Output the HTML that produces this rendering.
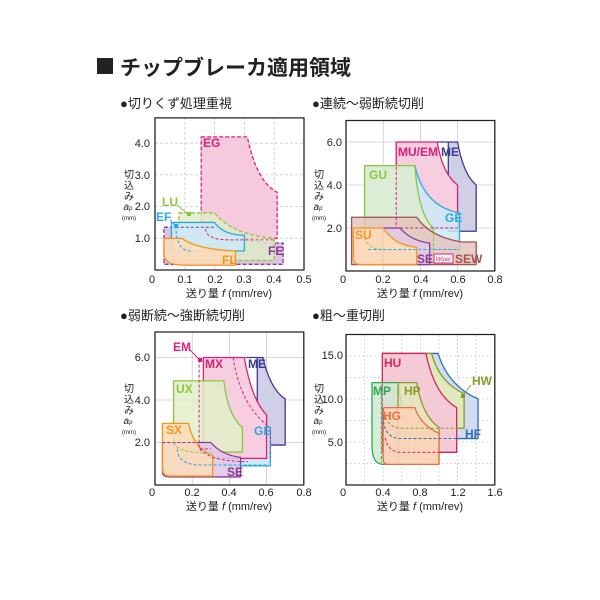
<!DOCTYPE html>
<html><head><meta charset="utf-8"><style>
body{margin:0;background:#fff;}
svg{display:block;font-family:"Liberation Sans","Noto Sans CJK JP",sans-serif;}
.f{vector-effect:non-scaling-stroke;stroke-width:1.3;stroke-linejoin:round}
.d{vector-effect:non-scaling-stroke;stroke-width:1;fill:none;stroke-dasharray:3 2}
.g{vector-effect:non-scaling-stroke;stroke:#ccc;stroke-width:0.8;fill:none}
.t{font-size:11px;fill:#222}
.l{font-size:12px;font-weight:bold}
</style></head><body>
<svg width="600" height="600" viewBox="0 0 600 600">
<rect x="97" y="58" width="16" height="16" fill="#222"/>
<text x="120" y="75" font-size="21" font-weight="bold" fill="#222">チップブレーカ適用領域</text>

<!-- Chart 1 -->
<text x="120" y="108" font-size="13" fill="#222">●切りくず処理重視</text>
<g transform="translate(155,270) scale(298,-31.7)">
<path class="g" stroke-dasharray="3 2" d="M0.1 0V4.8M0.2 0V4.8M0.3 0V4.8M0.4 0V4.8M0 1H0.5M0 2H0.5M0 3H0.5M0 4H0.5"/>
<path class="f" fill="#f7c9dd" stroke="#d6227a" stroke-dasharray="4 2" d="M0.155 4.2H0.31Q0.34 2.8 0.41 2.45V1H0.18Q0.155 1 0.155 1.2Z"/>
<path class="f" fill="#dcc4e2" stroke="#8b3a96" stroke-dasharray="4 2" d="M0.03 1.35H0.2Q0.25 0.95 0.39 0.85H0.43V0.18H0.03Z"/>
<path class="f" fill="#e0eec8" fill-opacity="0.8" stroke="#8cc63f" stroke-dasharray="4 2" d="M0.08 1.8H0.2Q0.26 1.1 0.4 1.0V0.3H0.1Q0.08 0.3 0.08 0.5Z"/>
<path class="f" fill="#cde9f7" fill-opacity="0.85" stroke="#29a9e0" d="M0.055 1.5H0.2Q0.23 1.1 0.3 1.1V0.6H0.08Q0.055 0.6 0.055 0.9Z"/>
<path class="f" fill="#fcdcb9" fill-opacity="0.9" stroke="#f7941d" d="M0.03 1.0H0.09Q0.14 0.65 0.27 0.6V0.15H0.1Q0.03 0.15 0.03 0.5Z"/>
<path class="d" stroke="#d6227a" d="M0.17 1.3Q0.17 0.95 0.25 0.95H0.4"/>
<path class="d" stroke="#8b3a96" d="M0.07 1.35H0.2"/>
<path class="d" stroke="#29a9e0" d="M0.07 1.4Q0.07 0.6 0.12 0.6"/>
<rect class="f" x="0" y="0" width="0.5" height="4.8" fill="none" stroke="#222"/>
</g>
<text class="l" x="203" y="147" fill="#d6227a">EG</text>
<text class="l" x="162" y="206" fill="#8cc63f">LU</text>
<path d="M177 205L188 214" stroke="#8cc63f" fill="none"/><rect x="187" y="212" width="4" height="4" fill="#8cc63f"/>
<text class="l" x="156" y="221" fill="#29a9e0">EF</text>
<path d="M170 220L176 226" stroke="#29a9e0" fill="none"/><rect x="174" y="224" width="4" height="4" fill="#29a9e0"/>
<text class="l" x="268" y="255" fill="#8b3a96">FE</text>
<text class="l" x="222" y="264" fill="#f7941d">FL</text>
<g class="t" text-anchor="end"><text x="150" y="147">4.0</text><text x="150" y="179">3.0</text><text x="150" y="210">2.0</text><text x="150" y="242">1.0</text></g>
<g class="t" text-anchor="middle"><text x="152" y="283">0</text><text x="185" y="283">0.1</text><text x="215" y="283">0.2</text><text x="244" y="283">0.3</text><text x="274" y="283">0.4</text><text x="304" y="283">0.5</text></g>
<text class="t" x="229" y="297" text-anchor="middle">送り量 <tspan font-style="italic">f</tspan> (mm/rev)</text>
<g font-size="10" fill="#222" text-anchor="middle"><text x="129" y="178">切</text><text x="129" y="189">込</text><text x="129" y="200">み</text><text x="128" y="210" font-style="italic">a<tspan font-size="6">p</tspan></text><text x="129" y="220" font-size="6">(mm)</text></g>

<!-- Chart 2 -->
<text x="312" y="108" font-size="13" fill="#222">●連続～弱断続切削</text>
<g transform="translate(346,271) scale(186,-21.5)">
<path class="g" d="M0.2 0V7M0.4 0V7M0.6 0V7M0 2H0.8M0 4H0.8M0 6H0.8"/>
<path class="f" fill="#cfcfe6" stroke="#3b3b8f" d="M0.49 6H0.6Q0.63 4.5 0.7 4.0V1.85H0.55V6Z"/>
<path class="f" fill="#f7cde0" stroke="#d6227a" d="M0.27 6H0.49Q0.52 4.5 0.6 4.0V2.0H0.27Z"/>
<path class="f" fill="#cde9f7" fill-opacity="0.85" stroke="#29a9e0" d="M0.1 4.9H0.37Q0.42 3 0.61 2.7V1.0H0.12Q0.1 1 0.1 1.3Z"/>
<path class="f" fill="#e0eec8" fill-opacity="0.7" stroke="#8cc63f" d="M0.1 4.9H0.37Q0.39 2.6 0.47 2.0V0.5H0.1Z"/>
<path class="f" fill="#e4c6bd" fill-opacity="0.85" stroke="#a0524f" d="M0.03 2.5H0.38Q0.45 1.6 0.62 1.35H0.7V0.3H0.03Z"/>
<path class="f" fill="#e0c9e6" fill-opacity="0.9" stroke="#8b3a96" d="M0.2 2.0H0.29Q0.35 1.4 0.45 1.3V0.3H0.2Z"/>
<path class="f" fill="#fcdcb9" fill-opacity="0.9" stroke="#f7941d" d="M0.04 2.0H0.2Q0.26 1.2 0.38 1.1V0.3H0.08Q0.04 0.3 0.04 0.6Z"/>
<path class="d" stroke="#d6227a" d="M0.27 6V2.0H0.6"/>
<path class="d" stroke="#8cc63f" d="M0.47 2.0V0.9M0.1 1.8Q0.1 1 0.2 1"/>
<path class="d" stroke="#29a9e0" d="M0.12 1H0.61"/>
<rect class="f" x="0" y="0" width="0.8" height="7" fill="none" stroke="#222"/>
</g>
<text class="l" x="398" y="156" fill="#d6227a">MU/EM</text>
<text class="l" x="441" y="156" fill="#3b3b8f">ME</text>
<text class="l" x="369" y="179" fill="#8cc63f">GU</text>
<text class="l" x="445" y="222" fill="#29a9e0">GE</text>
<text class="l" x="355" y="239" fill="#f7941d">SU</text>
<text class="l" x="417" y="263" fill="#8b3a96">SE</text>
<rect x="434" y="254" width="19" height="9" fill="#fff" stroke="#d6227a"/>
<text x="443.5" y="261" font-size="6" fill="#d6227a" text-anchor="middle" font-style="italic">Wiper</text>
<text class="l" x="455" y="263" fill="#a0524f">SEW</text>
<g class="t" text-anchor="end" font-size="10"><text x="342" y="146">6.0</text><text x="342" y="189">4.0</text><text x="342" y="232">2.0</text></g>
<g class="t" text-anchor="middle"><text x="343" y="283">0</text><text x="383" y="283">0.2</text><text x="421" y="283">0.4</text><text x="458" y="283">0.6</text><text x="495" y="283">0.8</text></g>
<text class="t" x="420" y="297" text-anchor="middle">送り量 <tspan font-style="italic">f</tspan> (mm/rev)</text>
<g font-size="10" fill="#222" text-anchor="middle"><text x="319" y="178">切</text><text x="319" y="189">込</text><text x="319" y="200">み</text><text x="318" y="210" font-style="italic">a<tspan font-size="6">p</tspan></text><text x="319" y="220" font-size="6">(mm)</text></g>

<!-- Chart 3 -->
<text x="120" y="320" font-size="13" fill="#222">●弱断続～強断続切削</text>
<g transform="translate(155,485) scale(186,-21.25)">
<path class="g" d="M0.2 0V7.2M0.4 0V7.2M0.6 0V7.2M0 2H0.8M0 4H0.8M0 6H0.8"/>
<path class="f" fill="#cfcfe6" stroke="#3b3b8f" d="M0.49 6H0.58Q0.62 4.5 0.7 4.05V1.88H0.55V6Z"/>
<path class="f" fill="#cde9f7" stroke="#29a9e0" d="M0.37 4.9H0.47Q0.5 3 0.62 2.7V0.9H0.37Z"/>
<path class="f" fill="#f7cde0" stroke="#d6227a" d="M0.26 6H0.48Q0.52 4 0.6 3.3V1.25H0.26Z"/>
<path class="f" fill="#e0eec8" fill-opacity="0.85" stroke="#8cc63f" d="M0.1 4.9H0.37Q0.39 3.3 0.47 2.7V1.55H0.1Z"/>
<path class="f" fill="#e0c9e6" fill-opacity="0.9" stroke="#8b3a96" d="M0.04 2.0H0.3Q0.36 1.4 0.46 1.3V0.38H0.08Q0.04 0.38 0.04 0.6Z"/>
<path class="f" fill="#fcdcb9" fill-opacity="0.85" stroke="#f7941d" d="M0.04 2.9H0.18Q0.21 1.7 0.31 1.4V0.42H0.08Q0.04 0.42 0.04 0.8Z"/>
<path class="d" stroke="#d6227a" d="M0.237 5.9V1.7H0.3M0.42 6Q0.46 3.7 0.62 2.7V1.3M0.24 1.7Q0.3 1.1 0.5 1.1"/>
<path class="d" stroke="#8b3a96" d="M0.04 2.0H0.3"/>
<path class="d" stroke="#29a9e0" d="M0.12 1.7Q0.12 0.94 0.25 0.94H0.6"/>
<path class="d" stroke="#8cc63f" d="M0.1 2Q0.12 1.5 0.3 1.5"/>
<rect class="f" x="0" y="0" width="0.8" height="7.2" fill="none" stroke="#222"/>
</g>
<text class="l" x="173" y="351" fill="#d6227a">EM</text>
<path d="M190 350L199 359" stroke="#d6227a" fill="none"/><rect x="198" y="358" width="4" height="4" fill="#d6227a"/>
<text class="l" x="205" y="368" fill="#d6227a">MX</text>
<text class="l" x="248" y="368" fill="#3b3b8f">ME</text>
<text class="l" x="176" y="393" fill="#8cc63f">UX</text>
<text class="l" x="254" y="435" fill="#29a9e0">GE</text>
<text class="l" x="166" y="434" fill="#f7941d">SX</text>
<text class="l" x="227" y="476" fill="#8b3a96">SE</text>
<g class="t" text-anchor="end"><text x="150" y="361">6.0</text><text x="150" y="404">4.0</text><text x="150" y="446">2.0</text></g>
<g class="t" text-anchor="middle"><text x="152" y="496">0</text><text x="192" y="496">0.2</text><text x="229" y="496">0.4</text><text x="266" y="496">0.6</text><text x="304" y="496">0.8</text></g>
<text class="t" x="229" y="510" text-anchor="middle">送り量 <tspan font-style="italic">f</tspan> (mm/rev)</text>
<g font-size="10" fill="#222" text-anchor="middle"><text x="129" y="392">切</text><text x="129" y="403">込</text><text x="129" y="414">み</text><text x="128" y="424" font-style="italic">a<tspan font-size="6">p</tspan></text><text x="129" y="434" font-size="6">(mm)</text></g>

<!-- Chart 4 -->
<text x="312" y="320" font-size="13" fill="#222">●粗～重切削</text>
<g transform="translate(346,485) scale(93,-8.6)">
<path class="g" stroke-dasharray="2 2" d="M0.2 0V17.5M0.4 0V17.5M0.6 0V17.5M0.8 0V17.5M1 0V17.5M1.2 0V17.5M1.4 0V17.5M0 2.5H1.6M0 5H1.6M0 7.5H1.6M0 10H1.6M0 12.5H1.6M0 15H1.6"/>
<path class="f" fill="#d0dcf1" stroke="#2f6fb8" d="M0.4 15.3H0.99Q1.1 11.5 1.42 10V5.4H0.4Z"/>
<path class="f" fill="#e0e8bd" stroke="#8c9a2a" d="M0.4 15.3H0.92Q1.0 12 1.27 10.6V6.6H0.4Z"/>
<path class="f" fill="#f4cad7" stroke="#d7265d" d="M0.39 15.3H0.86Q0.95 10.5 1.19 9.0V3.8H0.39Z"/>
<path class="f" fill="#cfe9d3" fill-opacity="0.85" stroke="#2ea84a" d="M0.28 11.9H0.56Q0.62 7 0.75 5V2.4H0.4Q0.28 2.4 0.28 4.5Z"/>
<path class="f" fill="#e4e7bc" fill-opacity="0.8" stroke="#8c9a2a" d="M0.56 11.9H0.76Q0.82 8 1.0 6.7V2.4H0.56Z"/>
<path class="f" fill="#fad3b8" fill-opacity="0.9" stroke="#f26b3a" d="M0.4 9.0H0.74Q0.8 7 1.0 6.0V2.4H0.45Q0.4 2.4 0.4 3Z"/>
<path class="d" stroke="#2f6fb8" d="M0.4 8Q0.4 5.4 0.6 5.4H1.42"/>
<path class="d" stroke="#8c9a2a" d="M0.4 9Q0.42 6.6 0.6 6.6H1.27"/>
<path class="d" stroke="#d7265d" d="M0.39 15.3V3.8M0.42 5.5Q0.45 3.8 0.6 3.8H1.1"/>
<path class="d" stroke="#2ea84a" d="M0.38 11.5V2.6"/>
<rect class="f" x="0" y="0" width="1.6" height="17.5" fill="none" stroke="#222"/>
</g>
<text class="l" x="384" y="367" fill="#d7265d">HU</text>
<text class="l" x="472" y="385" fill="#8c9a2a">HW</text>
<path d="M471 385L463 395" stroke="#8c9a2a" fill="none"/><rect x="461" y="394" width="4" height="4" fill="#8c9a2a"/>
<text class="l" x="373" y="395" fill="#2ea84a">MP</text>
<text class="l" x="404" y="395" fill="#8c9a2a">HP</text>
<text class="l" x="383" y="420" fill="#f26b3a">HG</text>
<text class="l" x="465" y="438" fill="#2f6fb8">HF</text>
<g class="t" text-anchor="end" font-size="9"><text x="343" y="359">15.0</text><text x="343" y="403">10.0</text><text x="343" y="446">5.0</text></g>
<g class="t" text-anchor="middle"><text x="343" y="496">0</text><text x="383" y="496">0.4</text><text x="420" y="496">0.8</text><text x="458" y="496">1.2</text><text x="495" y="496">1.6</text></g>
<text class="t" x="420" y="510" text-anchor="middle">送り量 <tspan font-style="italic">f</tspan> (mm/rev)</text>
<g font-size="10" fill="#222" text-anchor="middle"><text x="319" y="392">切</text><text x="319" y="403">込</text><text x="319" y="414">み</text><text x="318" y="424" font-style="italic">a<tspan font-size="6">p</tspan></text><text x="319" y="434" font-size="6">(mm)</text></g>
</svg>
</body></html>
